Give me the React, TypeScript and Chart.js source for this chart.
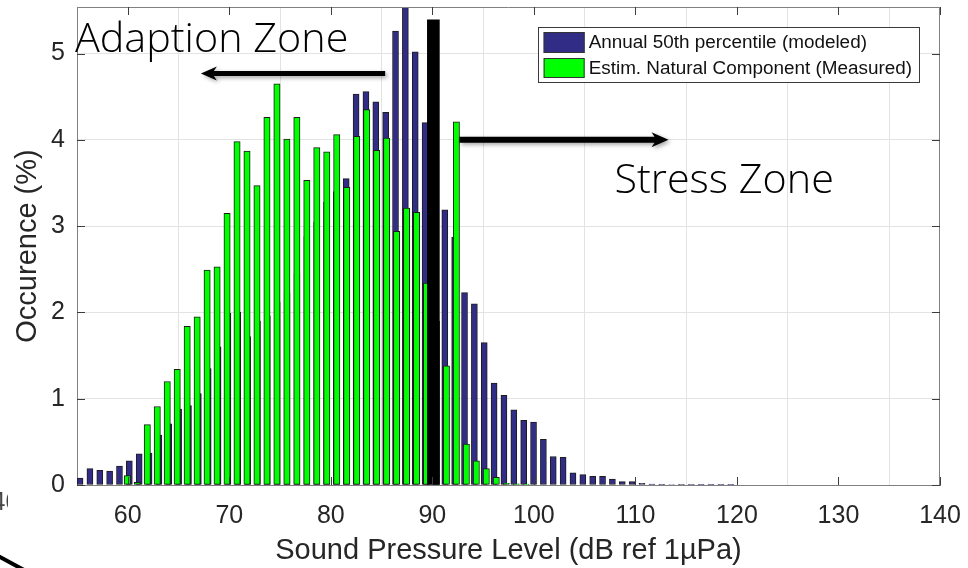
import { useEffect, useRef } from "react";
import { Chart, registerables } from "chart.js";

Chart.register(...registerables);

// Occurrence (%) per sound-level bin, bin centres in dB re 1 µPa
const modeledBinStart = 55.3;
const modeledBinStep = 0.971;
const modeledOccurrence = [
  0.08, 0.19, 0.17, 0.16, 0.22, 0.28, 0.36, 0.37, 0.58, 0.71,
  0.88, 0.92, 1.06, 1.35, 1.6, 1.99, 2.0, 1.72, 1.9, 1.96,
  2.12, 2.22, 2.45, 2.88, 3.05, 3.28, 3.4, 3.55, 4.53, 4.56,
  4.44, 4.32, 5.26, 5.6, 5.02, 4.2, 3.7, 3.19, 2.87, 2.23,
  2.1, 1.65, 1.18, 1.04, 0.87, 0.75, 0.73, 0.53, 0.33, 0.32,
  0.14, 0.12, 0.1, 0.1, 0.07, 0.04, 0.04, 0.02, 0.01, 0.008,
  0.006, 0.005, 0.005, 0.004, 0.004, 0.003, 0.003,
];

const measuredBinStart = 59.96;
const measuredBinStep = 0.982;
const measuredOccurrence = [
  0.11, 0.03, 0.7, 0.91, 1.2, 1.34, 1.84, 1.95, 2.49, 2.53,
  3.15, 3.98, 3.87, 3.47, 4.26, 4.65, 4.01, 4.26, 3.53, 3.91,
  3.86, 4.06, 3.45, 4.04, 4.35, 3.88, 4.02, 2.94, 3.21, 3.16,
  2.34, 1.9, 1.38, 4.21, 0.475, 0.28, 0.19, 0.09, 0.02, 0.015,
  0.01,
];

// Boundary between adaption and stress zones
const thresholdLevel = 90.1;
const thresholdMarkerHeight = 5.39;

const xTickValues = [60, 70, 80, 90, 100, 110, 120, 130, 140];
const yTickValues = [0, 1, 2, 3, 4, 5];

const seriesNames = [
  "Annual 50th percentile (modeled)",
  "Estim. Natural Component (Measured)",
];
const xTitle = "Sound Pressure Level (dB ref 1µPa)";
const yTitle = "Occurence (%)";
const adaptionText = "Adaption Zone";
const stressText = "Stress Zone";

// Zone annotations, anchored in axis units (dB, %)
const adaptionLabel = { x: 54.8, y: 5.02 };
const adaptionArrow = { from: 85.35, to: 67.2, y: 4.77 };
const stressArrow = { from: 92.66, to: 113.26, y: 4.0 };
const stressLabel = { x: 107.94, y: 3.39 };

const BLUE = "#312c86";
const GREEN = "#00ff00";
const EDGE = "#1c1c1c";
const AXIS = "#808080";
const GRID = "#e3e3e3";
const TEXT = "#262626";
const SANS = '"Liberation Sans", Arial, sans-serif';
const ZONE_FONT = '300 41.3px "Open Sans", "Noto Sans", sans-serif';

function drawArrow(
  ctx: CanvasRenderingContext2D,
  x0: number,
  x1: number,
  y: number,
  shaft: number,
  headLen: number,
  headHalf: number
) {
  const dir = Math.sign(x1 - x0);
  const base = x1 - dir * headLen;
  const notch = base + dir * 3;
  ctx.beginPath();
  ctx.moveTo(x0, y - shaft / 2);
  ctx.lineTo(notch, y - shaft / 2);
  ctx.lineTo(base, y - headHalf);
  ctx.lineTo(x1, y);
  ctx.lineTo(base, y + headHalf);
  ctx.lineTo(notch, y + shaft / 2);
  ctx.lineTo(x0, y + shaft / 2);
  ctx.closePath();
  ctx.fill();
}

const overlayPlugin = {
  id: "zoneOverlay",
  afterDatasetsDraw(chart: any) {
    const { ctx, chartArea: a, scales } = chart;
    const xs = scales.x;
    const ys = scales.y;

    ctx.save();
    // axes box and inward tick marks
    ctx.strokeStyle = AXIS;
    ctx.lineWidth = 1;
    ctx.beginPath();
    ctx.moveTo(a.left, a.top + 0.5);
    ctx.lineTo(a.right, a.top + 0.5);
    ctx.moveTo(a.right - 0.5, a.top);
    ctx.lineTo(a.right - 0.5, a.bottom);
    ctx.stroke();
    ctx.strokeStyle = "#3c3c3c";
    ctx.beginPath();
    for (const v of xTickValues) {
      const px = Math.round(xs.getPixelForValue(v)) + 0.5;
      ctx.moveTo(px, a.bottom);
      ctx.lineTo(px, a.bottom - 8);
      ctx.moveTo(px, a.top);
      ctx.lineTo(px, a.top + 8);
    }
    for (const v of yTickValues) {
      const py = Math.round(ys.getPixelForValue(v)) + 0.5;
      ctx.moveTo(a.left, py);
      ctx.lineTo(a.left + 8, py);
      ctx.moveTo(a.right, py);
      ctx.lineTo(a.right - 8, py);
    }
    ctx.stroke();

    // zone arrows with a soft drop shadow
    ctx.fillStyle = "#000";
    ctx.shadowColor = "rgba(0,0,0,0.35)";
    ctx.shadowBlur = 4;
    ctx.shadowOffsetX = 2;
    ctx.shadowOffsetY = 2;
    drawArrow(
      ctx,
      xs.getPixelForValue(adaptionArrow.from),
      xs.getPixelForValue(adaptionArrow.to),
      ys.getPixelForValue(adaptionArrow.y),
      5,
      16,
      7
    );
    drawArrow(
      ctx,
      xs.getPixelForValue(stressArrow.from),
      xs.getPixelForValue(stressArrow.to),
      ys.getPixelForValue(stressArrow.y),
      6,
      17,
      7.5
    );
    ctx.shadowColor = "transparent";
    ctx.shadowBlur = 0;
    ctx.shadowOffsetX = 0;
    ctx.shadowOffsetY = 0;

    // zone captions
    ctx.font = ZONE_FONT;
    ctx.fillStyle = "#000";
    ctx.textAlign = "left";
    ctx.textBaseline = "alphabetic";
    ctx.fillText(
      adaptionText,
      xs.getPixelForValue(adaptionLabel.x),
      ys.getPixelForValue(adaptionLabel.y)
    );
    ctx.fillText(
      stressText,
      xs.getPixelForValue(stressLabel.x),
      ys.getPixelForValue(stressLabel.y)
    );

    // legend box in the upper right corner of the axes
    const colors = [BLUE, GREEN];
    ctx.font = `18.9px ${SANS}`;
    const textW = Math.max(...seriesNames.map((s) => ctx.measureText(s).width));
    const boxRight = a.right - 21;
    const boxTop = a.top + 20;
    const boxW = 5.5 + 41 + 4 + textW + 7;
    const boxH = 55;
    const boxLeft = boxRight - boxW;
    ctx.fillStyle = "#fff";
    ctx.fillRect(boxLeft, boxTop, boxW, boxH);
    ctx.strokeStyle = "#3a3a3a";
    ctx.lineWidth = 1;
    ctx.strokeRect(Math.round(boxLeft) + 0.5, Math.round(boxTop) + 0.5, Math.round(boxW), boxH);
    const rows = [
      { top: 5, h: 21, mid: 15.3 },
      { top: 31, h: 20, mid: 41.6 },
    ];
    rows.forEach((r, i) => {
      const sx = boxLeft + 5.5;
      ctx.fillStyle = colors[i];
      ctx.fillRect(sx, boxTop + r.top, 41, r.h);
      ctx.strokeStyle = "#333";
      ctx.strokeRect(sx + 0.5, boxTop + r.top + 0.5, 40, r.h - 1);
      ctx.fillStyle = "#111";
      ctx.textBaseline = "middle";
      ctx.fillText(seriesNames[i], sx + 45, boxTop + r.mid);
    });
    ctx.restore();
  },
  afterDraw(chart: any) {
    // page edge: cut-off neighbouring label and a stroke in the lower-left corner
    const { ctx } = chart;
    ctx.save();
    ctx.beginPath();
    ctx.rect(0, 480, 8, 40);
    ctx.clip();
    ctx.fillStyle = "#444";
    ctx.font = `25px ${SANS}`;
    ctx.textBaseline = "alphabetic";
    ctx.fillText("40", -8.5, 510);
    ctx.restore();
    ctx.save();
    ctx.strokeStyle = "#000";
    ctx.lineWidth = 4;
    ctx.beginPath();
    ctx.moveTo(-2, 556);
    ctx.lineTo(24, 570);
    ctx.stroke();
    ctx.restore();
  },
};

export default function App() {
  const canvasRef = useRef<HTMLCanvasElement>(null);

  useEffect(() => {
    const canvas = canvasRef.current;
    if (!canvas) return;

    const modeledPoints = modeledOccurrence.map((v, i) => ({
      x: modeledBinStart + i * modeledBinStep,
      y: v,
    }));
    const measuredPoints = measuredOccurrence.map((v, i) => ({
      x: measuredBinStart + i * measuredBinStep,
      y: v,
    }));

    const chart = new Chart(canvas, {
      type: "bar",
      data: {
        datasets: [
          {
            label: seriesNames[0],
            data: modeledPoints,
            backgroundColor: BLUE,
            borderColor: EDGE,
            borderWidth: 1,
            borderSkipped: false,
            barThickness: 6,
            stack: "bins",
            order: 2,
          },
          {
            label: seriesNames[1],
            data: measuredPoints,
            backgroundColor: GREEN,
            borderColor: EDGE,
            borderWidth: 1,
            borderSkipped: false,
            barThickness: 6.3,
            stack: "bins",
            order: 1,
          },
          {
            label: "threshold",
            data: [{ x: thresholdLevel, y: thresholdMarkerHeight }],
            backgroundColor: "#000",
            borderWidth: 0,
            barThickness: 12,
            stack: "bins",
            order: 0,
          },
        ],
      } as any,
      options: {
        responsive: true,
        maintainAspectRatio: false,
        animation: false,
        events: [],
        layout: { padding: { left: 0, right: 28, top: 7, bottom: 0 } },
        plugins: {
          legend: { display: false },
          tooltip: { enabled: false },
        },
        scales: {
          x: {
            type: "linear",
            min: 55,
            max: 140,
            offset: false,
            afterBuildTicks: (s: any) => {
              s.ticks = xTickValues.map((value) => ({ value }));
            },
            afterFit: (s: any) => {
              s.height = 83;
              s.paddingLeft = 0;
              s.paddingRight = 0;
            },
            grid: { color: GRID, drawTicks: false, lineWidth: 1 },
            border: { color: AXIS, width: 1 },
            ticks: {
              font: { family: SANS, size: 25 },
              color: TEXT,
              padding: 16,
              maxRotation: 0,
              autoSkip: false,
              callback: (v: any) => String(v),
            },
            title: {
              display: true,
              text: xTitle,
              color: TEXT,
              font: { family: SANS, size: 29 },
              padding: { top: 0, bottom: 0 },
            },
          },
          y: {
            type: "linear",
            min: 0,
            max: 5.54,
            stacked: false,
            afterBuildTicks: (s: any) => {
              s.ticks = yTickValues.map((value) => ({ value }));
            },
            afterFit: (s: any) => {
              s.width = 77;
              s.paddingTop = 0;
              s.paddingBottom = 0;
            },
            grid: { color: GRID, drawTicks: false, lineWidth: 1 },
            border: { color: AXIS, width: 1 },
            ticks: {
              font: { family: SANS, size: 25 },
              color: TEXT,
              padding: 12,
              callback: (v: any) => String(v),
            },
            title: {
              display: true,
              text: yTitle,
              color: TEXT,
              font: { family: SANS, size: 29 },
              padding: { top: 11, bottom: 0 },
            },
          },
        },
      } as any,
      plugins: [overlayPlugin],
    });

    return () => chart.destroy();
  }, []);

  return (
    <div
      style={{
        position: "absolute",
        left: 0,
        top: 0,
        width: 968,
        height: 568,
        background: "#fff",
      }}
    >
      <canvas ref={canvasRef} />
    </div>
  );
}
